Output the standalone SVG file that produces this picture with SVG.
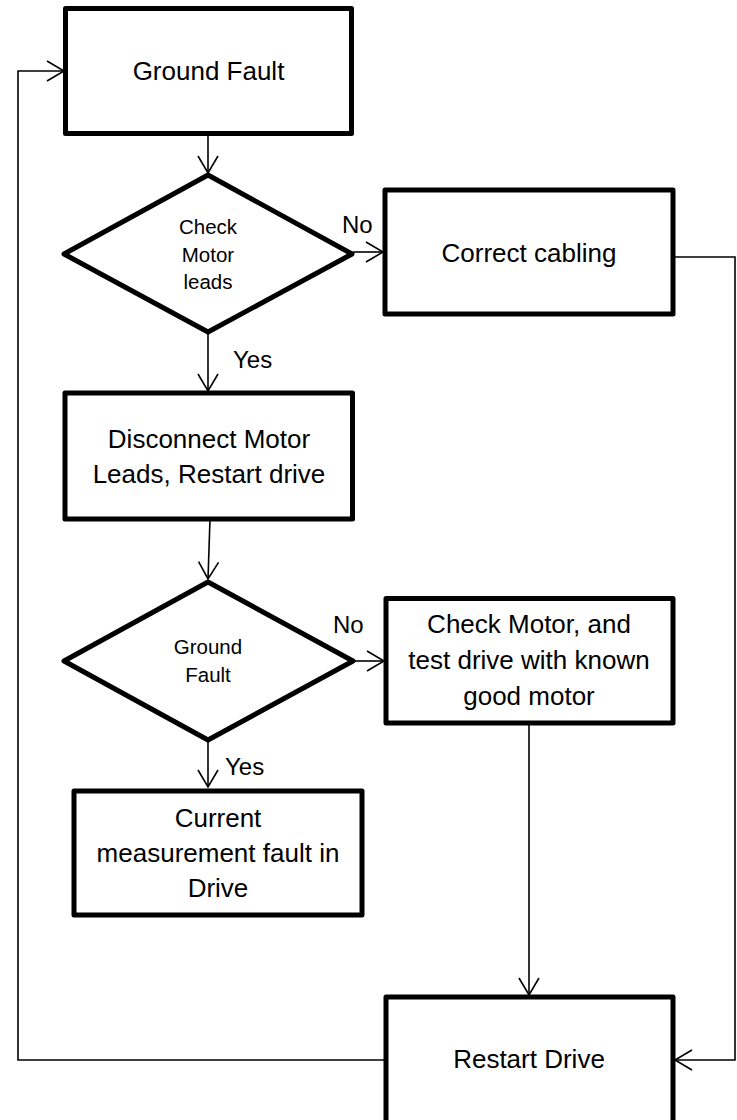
<svg xmlns="http://www.w3.org/2000/svg" width="737" height="1120" viewBox="0 0 737 1120">
  <defs>
    <style>
      .box { fill: #ffffff; stroke: #000000; stroke-width: 5; stroke-linejoin: round; }
      .wire { fill: none; stroke: #000000; stroke-width: 1.6; }
      .txt { font-family: "Liberation Sans", Arial, sans-serif; font-size: 26px; fill: #000000; text-anchor: middle; }
      .dtxt { font-family: "Liberation Sans", Arial, sans-serif; font-size: 20.5px; fill: #000000; text-anchor: middle; }
      .lbl { font-family: "Liberation Sans", Arial, sans-serif; font-size: 24px; fill: #000000; }
    </style>
    <!-- open V arrowhead, tip at the path end -->
    <marker id="arrow" viewBox="-20 -12 22 24" refX="0" refY="0" markerWidth="22" markerHeight="24" markerUnits="userSpaceOnUse" orient="auto">
      <path d="M-17,-10 L0,0 L-17,10" fill="none" stroke="#000000" stroke-width="1.6"/>
    </marker>
  </defs>
  <rect width="737" height="1120" fill="#ffffff"/>

  <!-- connectors -->
  <g id="connectors">
    <line class="wire" x1="208" y1="134" x2="208" y2="173" marker-end="url(#arrow)"/>
    <line class="wire" x1="353" y1="252" x2="383" y2="252" marker-end="url(#arrow)"/>
    <line class="wire" x1="208" y1="333" x2="208" y2="391" marker-end="url(#arrow)"/>
    <line class="wire" x1="210" y1="519" x2="208" y2="579" marker-end="url(#arrow)"/>
    <line class="wire" x1="355" y1="661" x2="384" y2="661" marker-end="url(#arrow)"/>
    <line class="wire" x1="208" y1="741" x2="208" y2="787" marker-end="url(#arrow)"/>
    <line class="wire" x1="529" y1="723" x2="529" y2="995" marker-end="url(#arrow)"/>
    <polyline class="wire" points="675,257 735,257 735,1060 675,1060" marker-end="url(#arrow)"/>
    <polyline class="wire" points="385,1060 18,1060 18,71 64,71" marker-end="url(#arrow)"/>
    <text class="lbl" x="342" y="233">No</text>
    <text class="lbl" x="233" y="368">Yes</text>
    <text class="lbl" x="333" y="633">No</text>
    <text class="lbl" x="225" y="775">Yes</text>
  </g>

  <g id="ground-fault">
    <rect class="box" x="65.5" y="8.5" width="286" height="125"/>
    <text class="txt" x="208.5" y="80">Ground Fault</text>
  </g>

  <g id="check-motor-leads">
    <polygon class="box" points="208,175 352,254 208,332 64,254"/>
    <text class="dtxt" x="208" y="234">Check</text>
    <text class="dtxt" x="208" y="262">Motor</text>
    <text class="dtxt" x="208" y="289">leads</text>
  </g>

  <g id="correct-cabling">
    <rect class="box" x="385" y="190" width="288" height="124"/>
    <text class="txt" x="529" y="262">Correct cabling</text>
  </g>

  <g id="disconnect-motor-leads">
    <rect class="box" x="65" y="393" width="287.5" height="126"/>
    <text class="txt" x="209" y="448">Disconnect Motor</text>
    <text class="txt" x="209" y="483">Leads, Restart drive</text>
  </g>

  <g id="ground-fault-check">
    <polygon class="box" points="208,582 353,661 208,740 64,661"/>
    <text class="dtxt" x="208" y="654">Ground</text>
    <text class="dtxt" x="208" y="682">Fault</text>
  </g>

  <g id="check-motor">
    <rect class="box" x="386" y="598.5" width="287" height="124.5"/>
    <text class="txt" x="529" y="633">Check Motor, and</text>
    <text class="txt" x="529" y="669">test drive with known</text>
    <text class="txt" x="529" y="705">good motor</text>
  </g>

  <g id="current-measurement-fault">
    <rect class="box" x="74" y="791" width="288" height="124"/>
    <text class="txt" x="218" y="827">Current</text>
    <text class="txt" x="218" y="862">measurement fault in</text>
    <text class="txt" x="218" y="897">Drive</text>
  </g>

  <g id="restart-drive">
    <rect class="box" x="386" y="997" width="287" height="128"/>
    <text class="txt" x="529" y="1068">Restart Drive</text>
  </g>
</svg>
